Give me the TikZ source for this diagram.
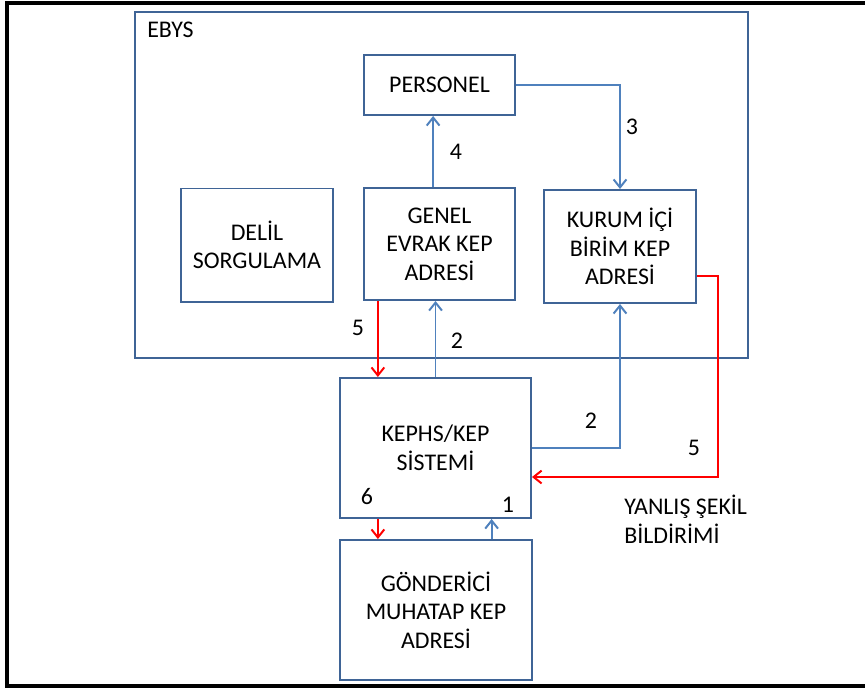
\documentclass[tikz,border=0pt]{standalone}
\usepackage{fontspec}
\setmainfont{Carlito}
\usetikzlibrary{arrows.meta,calc}
\definecolor{boxline}{HTML}{3F6496}
\definecolor{flowblue}{HTML}{4F81BD}
\tikzstyle{box}=[rectangle, draw=boxline, line width=1.4pt, fill=white, align=center, inner sep=0pt, anchor=center]
\tikzstyle{annot}=[align=center, inner sep=0pt]
\tikzstyle{blueflow}=[draw=flowblue, line width=1.4pt, -{Straight Barb[length=0.2cm,width=0.32cm]}]
\tikzstyle{redflow}=[draw=red, line width=1.4pt, -{Straight Barb[length=0.2cm,width=0.32cm]}]

\begin{document}
\begin{tikzpicture}[x=0.025cm, y=-0.025cm, font=\fontsize{17}{20.3}\selectfont]
	\useasboundingbox (0,0) rectangle (865,691);
	\draw[black, line width=2.2pt] (880,3) -| (7,686) -- (880,686);

	\node[box, minimum width=15.325cm, minimum height=8.65cm](ebys) at (441.5,185){};
	\node[annot, anchor=west](ebyslabel) at (147,30) {EBYS};

	\node[box, minimum width=3.775cm, minimum height=1.5cm](personel) at (439.5,85) {PERSONEL};
	\node[box, minimum width=3.775cm, minimum height=2.825cm](delil) at (257,245) {DELİL\\SORGULAMA};
	\node[box, minimum width=3.775cm, minimum height=2.8cm](genel) at (439.5,244) {GENEL\\EVRAK KEP\\ADRESİ};
	\node[box, minimum width=3.8cm, minimum height=2.825cm](kurum) at (620,246.5) {KURUM İÇİ\\BİRİM KEP\\ADRESİ};
	\node[box, minimum width=4.775cm, minimum height=3.5cm](kephs) at (435.5,448) {KEPHS/KEP\\SİSTEMİ};
	\node[box, minimum width=4.8cm, minimum height=3.5cm](gonderici) at (436,610) {GÖNDERİCİ\\MUHATAP KEP\\ADRESİ};

	%flows
	\draw[blueflow] ([xshift=-0.16cm]genel.north) -- ([xshift=-0.16cm]genel.north |- personel.south);
	\draw[blueflow] (personel.east) -| (kurum.north);
	\draw[redflow] ([xshift=-1.54cm]genel.south) -- ([xshift=-1.54cm]genel.south |- kephs.north);
	\draw[blueflow] (kephs.north) -- (kephs.north |- genel.south);
	\draw[blueflow] (kephs.east) -| (kurum.south);
	\draw[redflow] ([yshift=-0.74cm]kurum.east) -- ++(0.525cm,0) |- ([yshift=-0.725cm]kephs.east);
	\draw[redflow] ([xshift=-1.44cm]kephs.south) -- ([xshift=-1.44cm]kephs.south |- gonderici.north);
	\draw[blueflow] ([xshift=1.39cm]gonderici.north) -- ([xshift=1.39cm]gonderici.north |- kephs.south);

	\node[annot](n4) at (456,152) {4};
	\node[annot](n3) at (632,127) {3};
	\node[annot](n5a) at (358,328) {5};
	\node[annot](n2a) at (457,341) {2};
	\node[annot](n2b) at (591,421) {2};
	\node[annot](n5b) at (694,448) {5};
	\node[annot](n6) at (367,497) {6};
	\node[annot](n1) at (508,505) {1};
	\node[annot, align=left, anchor=west](wrong) at (624,519) {YANLIŞ ŞEKİL\\BİLDİRİMİ};
\end{tikzpicture}
\end{document}
